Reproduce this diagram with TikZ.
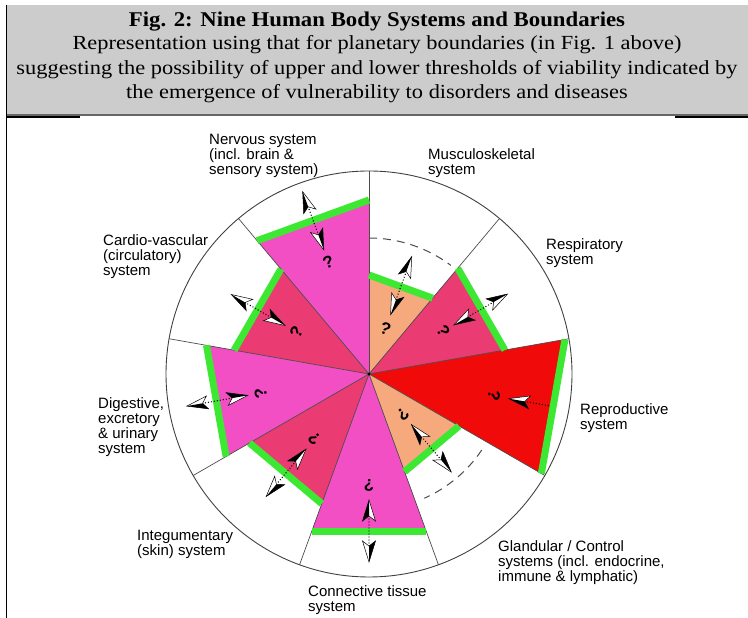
\documentclass[tikz,border=0pt]{standalone}
\usepackage{fontspec}
\setmainfont{Liberation Serif}
\setsansfont{Liberation Sans}

\definecolor{titlegray}{RGB}{204,204,204}
\definecolor{wedgepink}{RGB}{242,79,197}
\definecolor{wedgecrimson}{RGB}{234,59,115}
\definecolor{wedgered}{RGB}{240,10,10}
\definecolor{wedgesalmon}{RGB}{247,169,126}
\definecolor{limitgreen}{RGB}{60,232,50}

\tikzset{
  system/.style={font=\sffamily\fontsize{15}{15}\selectfont, align=left, anchor=north west, inner sep=0pt},
  heading/.style={font=\fontsize{20}{20}\selectfont, anchor=base},
  limit/.style={limitgreen, line width=7pt},
  spoke/.style={black!70, line width=0.7pt},
  dotline/.style={line width=1.4pt, dash pattern=on 0pt off 3pt, line cap=round},
  threshold/.style={black!70, line width=1pt, dash pattern=on 8pt off 6pt},
  qmark/.style={font=\sffamily\bfseries\fontsize{17}{17}\selectfont, inner sep=0pt},
  dart/.pic={
    \fill[white, draw=black, line width=0.5pt] (0,0) -- (-21,6.5) -- (-16,0) -- (-21,-6.5) -- cycle;
    \fill[black] (0,0) -- (-21,6.5) -- (-16,0) -- cycle;
  }
}

\begin{document}
\begin{tikzpicture}[x=1pt, y=1pt]
    \useasboundingbox (0,0) rectangle (748,618);

    % title
    \fill[titlegray] (6,503) rectangle (748,613);
    \draw[black!60, line width=1.2pt] (6,503) -- (748,503);
    \draw[line width=1.2pt] (6,501) -- (80,501);
    \draw[line width=1.2pt] (675,501) -- (748,501);
    \draw[line width=1pt] (6,0) -- (6,613);
    \node[heading, font=\bfseries\fontsize{21}{21}\selectfont] (title) at (377,591) {\scalebox{1.085}[1]{Fig. 2: Nine Human Body Systems and Boundaries}};
    \node[heading] (sub1) at (377,568) {\scalebox{1.12}[1]{Representation using that for planetary boundaries (in Fig. 1 above)}};
    \node[heading] (sub2) at (377,543) {\scalebox{1.12}[1]{suggesting the possibility of upper and lower thresholds of viability indicated by}};
    \node[heading] (sub3) at (377,519) {\scalebox{1.12}[1]{the emergence of vulnerability to disorders and diseases}};

    \begin{scope}[shift={(369,244)}]
        % wedges
        \fill[wedgesalmon] (0,0) -- (50:99) -- (90:99) -- cycle;
        \fill[wedgecrimson] (0,0) -- (10:138) -- (50:138) -- cycle;
        \fill[wedgered] (0,0) -- (-30:199) -- (10:199) -- cycle;
        \fill[wedgesalmon] (0,0) -- (-70:104) -- (-30:104) -- cycle;
        \fill[wedgepink] (0,0) -- (-110:168) -- (-70:168) -- cycle;
        \fill[wedgecrimson] (0,0) -- (-150:138) -- (-110:138) -- cycle;
        \fill[wedgepink] (0,0) -- (170:165) -- (210:165) -- cycle;
        \fill[wedgecrimson] (0,0) -- (130:137) -- (170:137) -- cycle;
        \fill[wedgepink] (0,0) -- (90:174) -- (130:174) -- cycle;

        % spokes and rim
        \draw[spoke] (0,0) -- (90:203);
        \draw[spoke] (0,0) -- (50:203);
        \draw[spoke] (0,0) -- (10:203);
        \draw[spoke] (0,0) -- (-30:203);
        \draw[spoke] (0,0) -- (-70:203);
        \draw[spoke] (0,0) -- (-110:203);
        \draw[spoke] (0,0) -- (-150:203);
        \draw[spoke] (0,0) -- (170:203);
        \draw[spoke] (0,0) -- (130:203);
        \draw[black!75, line width=0.9pt] (0,0) circle (203);
        \fill (0,0) circle (1.6);

        % boundaries
        \draw[limit] (50:99) -- (90:99);
        \draw[limit] (10:138) -- (50:138);
        \draw[limit] (-30:199) -- (10:199);
        \draw[limit] (-70:104) -- (-30:104);
        \draw[limit] (-110:168) -- (-70:168);
        \draw[limit] (-150:138) -- (-110:138);
        \draw[limit] (170:165) -- (210:165);
        \draw[limit] (130:137) -- (170:137);
        \draw[limit] (90:174) -- (130:174);
        \draw[threshold] (90:136) arc[start angle=90, end angle=53, radius=136];
        \draw[threshold] (-34:136) arc[start angle=-34, end angle=-66, radius=136];

        % musculoskeletal
        \coordinate (muscin) at (70:79);
        \coordinate (muscout) at (70:109);
        \draw[dotline] (muscin) -- (muscout);
        \pic[rotate=250] at (70:63) {dart};
        \pic[rotate=70] at (70:125) {dart};
        \node[qmark, rotate=-20] (qmusc) at (70:48) {?};

        % respiratory
        \coordinate (respin) at (30:114);
        \coordinate (respout) at (30:144);
        \draw[dotline] (respin) -- (respout);
        \pic[rotate=210] at (30:98) {dart};
        \pic[rotate=30] at (30:160) {dart};
        \node[qmark, rotate=-60] (qresp) at (30:86) {?};

        % reproductive
        \coordinate (reprin) at (-10:158);
        \coordinate (reprout) at (-10:182);
        \draw[dotline] (reprin) -- (reprout);
        \pic[rotate=170] at (-10:142) {dart};
        \node[qmark, rotate=-100] (qrepr) at (-10:127) {?};

        % glandular
        \coordinate (glandin) at (-50:82);
        \coordinate (glandout) at (-50:112);
        \draw[dotline] (glandin) -- (glandout);
        \pic[rotate=130] at (-50:66) {dart};
        \pic[rotate=-50] at (-50:128) {dart};
        \node[qmark, rotate=-140] (qgland) at (-50:53) {?};

        % connective
        \coordinate (connin) at (-90:142);
        \coordinate (connout) at (-90:172);
        \draw[dotline] (connin) -- (connout);
        \pic[rotate=90] at (-90:126) {dart};
        \pic[rotate=-90] at (-90:188) {dart};
        \node[qmark, rotate=-180] (qconn) at (-90:111) {?};

        % integumentary
        \coordinate (integin) at (-130:114);
        \coordinate (integout) at (-130:144);
        \draw[dotline] (integin) -- (integout);
        \pic[rotate=50] at (-130:98) {dart};
        \pic[rotate=-130] at (-130:160) {dart};
        \node[qmark, rotate=140] (qinteg) at (-130:85) {?};

        % digestive
        \coordinate (digin) at (190:139);
        \coordinate (digout) at (190:169);
        \draw[dotline] (digin) -- (digout);
        \pic[rotate=10] at (190:123) {dart};
        \pic[rotate=190] at (190:185) {dart};
        \node[qmark, rotate=100] (qdig) at (190:110) {?};

        % cardio-vascular
        \coordinate (cardin) at (150:113);
        \coordinate (cardout) at (150:143);
        \draw[dotline] (cardin) -- (cardout);
        \pic[rotate=330] at (150:97) {dart};
        \pic[rotate=150] at (150:159) {dart};
        \node[qmark, rotate=60] (qcard) at (150:84) {?};

        % nervous
        \coordinate (nervin) at (110:148);
        \coordinate (nervout) at (110:178);
        \draw[dotline] (nervin) -- (nervout);
        \pic[rotate=290] at (110:132) {dart};
        \pic[rotate=110] at (110:194) {dart};
        \node[qmark, rotate=20] (qnerv) at (110:119) {?};
    \end{scope}

    % labels
    \node[system] (nervous) at (209,484) {Nervous system\\(incl. brain \&\\sensory system)};
    \node[system] (muscular) at (428,470) {Musculoskeletal\\system};
    \node[system] (respiratory) at (546,380) {Respiratory\\system};
    \node[system] (reproductive) at (580,215) {Reproductive\\system};
    \node[system] (glandular) at (498,78) {Glandular / Control\\systems (incl. endocrine,\\immune \& lymphatic)};
    \node[system] (connective) at (308,33) {Connective tissue\\system};
    \node[system] (integumentary) at (137,88) {Integumentary\\(skin) system};
    \node[system] (digestive) at (98,221) {Digestive,\\excretory\\\& urinary\\system};
    \node[system] (cardio) at (103,384) {Cardio-vascular\\(circulatory)\\system};
\end{tikzpicture}
\end{document}
